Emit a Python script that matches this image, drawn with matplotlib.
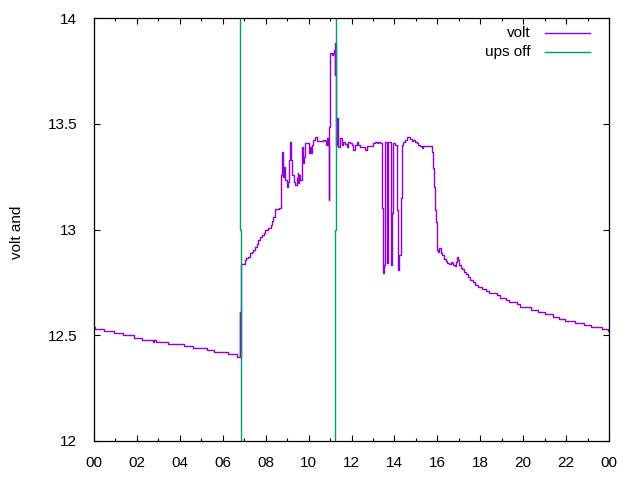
import numpy as np
import matplotlib
matplotlib.use("Agg")
import matplotlib.pyplot as plt
from matplotlib.ticker import MultipleLocator, FixedLocator

plt.rcParams['font.family'] = ['Liberation Sans', 'DejaVu Sans']

# time in hours of the day, battery voltage
volt_time = [0, 0.03, 0.47, 0.93, 1.37, 1.86, 2.25, 2.76, 2.78, 2.89, 3.45, 4.21, 4.63, 5.26, 5.61, 6.26, 6.65,
             6.80, 6.81, 6.86, 7.04, 7.10, 7.17, 7.27, 7.35, 7.42, 7.50, 7.58, 7.66, 7.74, 7.82, 7.90, 7.97,
             8.12, 8.23, 8.28, 8.33, 8.44, 8.64, 8.71, 8.73, 8.78, 8.79, 8.82, 8.85, 8.90, 8.98, 9.05, 9.10,
             9.15, 9.18, 9.23, 9.32, 9.38, 9.45, 9.49, 9.53, 9.57, 9.62, 9.69, 9.75, 9.79, 9.83, 10.00, 10.07,
             10.10, 10.16, 10.22, 10.30, 10.38, 10.69, 10.75, 10.82, 10.87, 10.92, 10.95, 10.97, 11.00, 11.09,
             11.15, 11.20, 11.23, 11.245, 11.25, 11.28, 11.33, 11.36, 11.46, 11.54, 11.62, 11.70, 11.78, 11.85,
             11.93, 12.00, 12.08, 12.16, 12.24, 12.32, 12.40, 12.55, 12.63, 12.71, 13.02, 13.10, 13.17, 13.25,
             13.33, 13.41, 13.44, 13.48, 13.51, 13.55, 13.64, 13.67, 13.71, 13.83, 13.86, 13.90, 13.95, 14.03,
             14.10, 14.13, 14.17, 14.20, 14.23, 14.29, 14.34, 14.41, 14.49, 14.57, 14.65, 14.73, 14.81, 14.88,
             14.96, 15.04, 15.11, 15.19, 15.27, 15.35, 15.77, 15.81, 15.84, 15.89, 15.94, 15.97, 16.00, 16.05,
             16.09, 16.16, 16.22, 16.31, 16.39, 16.47, 16.56, 16.62, 16.68, 16.75, 16.82, 16.88, 16.93, 16.97,
             17.02, 17.08, 17.17, 17.24, 17.34, 17.44, 17.52, 17.65, 17.76, 17.91, 18.07, 18.27, 18.42, 18.77,
             18.92, 19.20, 19.35, 19.70, 19.85, 20.37, 20.71, 21.02, 21.40, 21.68, 21.95, 22.42, 22.84, 23.15,
             23.66, 23.97, 24.0]
volt_value = [12.538, 12.528, 12.520, 12.511, 12.501, 12.486, 12.477, 12.470, 12.477, 12.468, 12.459, 12.449,
              12.440, 12.430, 12.421, 12.410, 12.396,
              12.61, 12.396, 12.837, 12.856, 12.865, 12.872, 12.887, 12.895, 12.905, 12.919, 12.930, 12.950,
              12.966, 12.975, 12.985, 12.998,
              13.006, 13.021, 13.040, 13.061, 13.095, 13.100, 13.139, 13.258, 13.368, 13.281, 13.250, 13.297,
              13.234, 13.202, 13.226, 13.329,
              13.415, 13.329, 13.258, 13.226, 13.210, 13.242, 13.266, 13.218, 13.258, 13.234, 13.392, 13.313,
              13.344, 13.408, 13.360, 13.392,
              13.360, 13.400, 13.423, 13.436, 13.418, 13.425, 13.418, 13.400, 13.431, 13.400, 13.139, 13.486,
              13.833, 13.825,
              13.833, 13.849, 13.872, 13.730, 13.880, 13.400, 13.526, 13.392, 13.431, 13.400, 13.415, 13.405,
              13.392, 13.415,
              13.410, 13.400, 13.376, 13.400, 13.415, 13.400, 13.392, 13.389, 13.376, 13.395, 13.410, 13.415,
              13.408, 13.415,
              13.408, 13.405, 13.100, 12.793, 12.832, 13.415, 13.148, 12.840, 13.415, 13.131, 12.832, 13.076,
              13.408, 13.400,
              13.395, 13.092, 12.809, 12.832, 12.879, 13.148, 13.400, 13.415, 13.423, 13.439, 13.435, 13.430,
              13.420, 13.425,
              13.415, 13.408, 13.400, 13.395, 13.384, 13.395, 13.368, 13.289, 13.202, 13.092, 13.037, 12.950,
              12.903, 12.895,
              12.911, 12.887, 12.879, 12.859, 12.852, 12.840, 12.837, 12.848, 12.840, 12.832, 12.827, 12.848,
              12.868, 12.855,
              12.832, 12.817, 12.812, 12.800, 12.790, 12.777, 12.761, 12.753, 12.738, 12.730, 12.717, 12.709,
              12.698, 12.690,
              12.675, 12.667, 12.659, 12.648, 12.635, 12.619, 12.610, 12.599, 12.585, 12.575, 12.569, 12.556,
              12.548, 12.539,
              12.530, 12.521, 12.521]

# UPS-off markers
ups_time = [6.82, 6.82, 6.86, 6.86, np.nan, 11.29, 11.29, 11.245, 11.245]
ups_value = [15.0, 13.0, 13.0, 11.0, np.nan, 15.0, 13.0, 13.0, 11.0]

hour_ticks = list(range(0, 25, 2))
hour_labels = ["%02d" % (h % 24) for h in hour_ticks]
y_ticks = [12, 12.5, 13, 13.5, 14]
y_labels = ["12", "12.5", "13", "13.5", "14"]

fig = plt.figure(figsize=(6.4, 4.8), dpi=100)
ax = fig.add_axes([94/640, 39/480, 515/640, 423/480])

purple = '#9400D3'
green = '#009E73'

ax.plot(volt_time, volt_value, color=purple, lw=1.0, drawstyle='steps-post')
ax.plot(ups_time, ups_value, color=green, lw=1.0)

ax.set_xlim(0, 24)
ax.set_ylim(12, 14)
ax.xaxis.set_major_locator(FixedLocator(hour_ticks))
ax.set_xticklabels(hour_labels)
ax.xaxis.set_minor_locator(MultipleLocator(1))
ax.set_yticks(y_ticks)
ax.set_yticklabels(y_labels)

ax.tick_params(which='both', direction='in', top=True, right=True, labelsize=11, width=0.8, colors='black')
ax.tick_params(which='major', length=4.5)
ax.tick_params(which='minor', length=2.5)
ax.tick_params(axis='x', pad=10.5)
ax.tick_params(axis='y', pad=12)
for s in ax.spines.values():
    s.set_linewidth(0.9)

fig.text(17/640, 1 - 232/480, "volt and", rotation=90, ha='center', va='center', fontsize=11)

# legend (gnuplot-style: right-aligned text, sample to the right)
legend_names = ["volt", "ups off"]
legend_colors = [purple, green]
for i, (name, col) in enumerate(zip(legend_names, legend_colors)):
    yy = 0.9645 - i * 0.0449
    ax.text(0.8485, yy, name, transform=ax.transAxes, ha='right', va='center', fontsize=11)
    ax.plot([0.876, 0.963], [yy, yy], transform=ax.transAxes, color=col, lw=1.0, clip_on=False)

fig.savefig("out.png", dpi=100)
